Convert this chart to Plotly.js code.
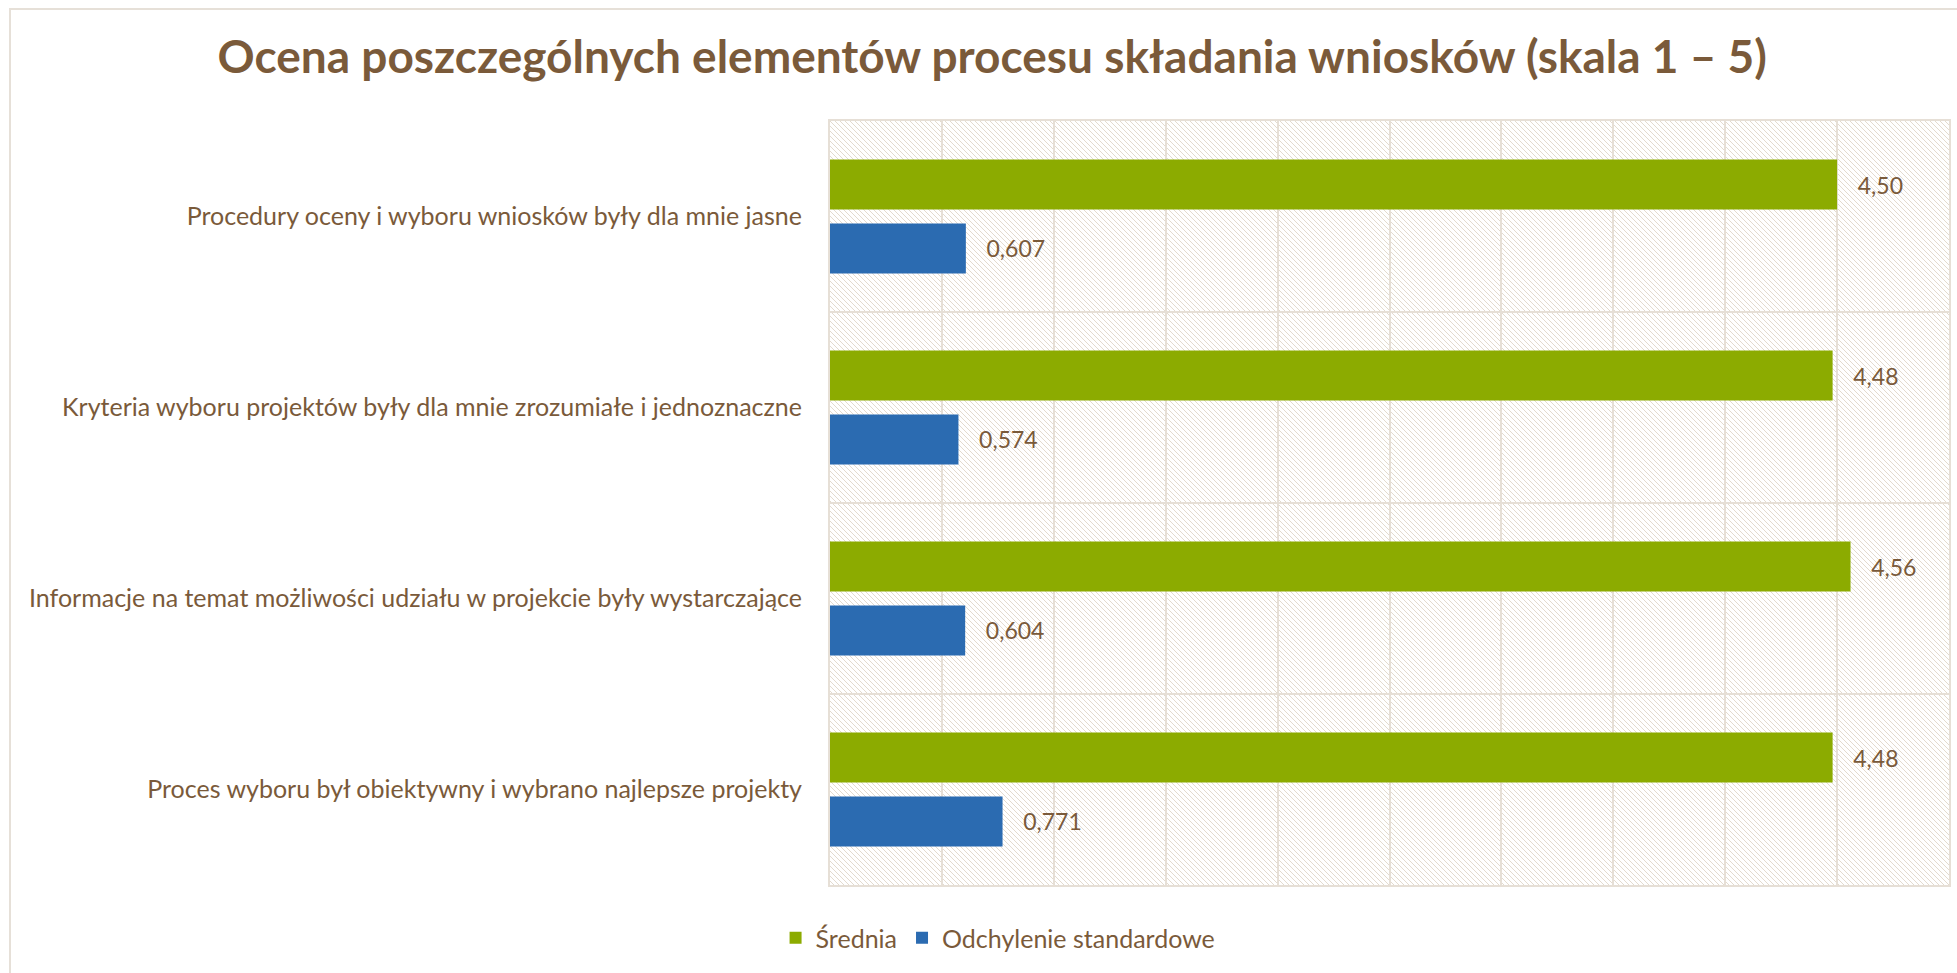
<!DOCTYPE html>
<html>
<head>
<meta charset="utf-8">
<script src="https://cdn.plot.ly/plotly-3.0.1.min.js"></script>
<style>
  html, body { margin: 0; padding: 0; background: #ffffff; }
  #wrap { position: relative; width: 1957px; height: 973px; overflow: hidden; }
  #frame { position: absolute; left: 9px; top: 8px; width: 2100px; height: 1100px;
           border-left: 2px solid #e6e0d8; border-top: 2px solid #e6e0d8; box-sizing: border-box; }
  #hatch { position: absolute; background-repeat: repeat; }
  #chart { position: absolute; left: 0; top: 0; width: 1957px; height: 973px; }
</style>
</head>
<body>
<div id="wrap">
  <div id="frame"></div>
  <div id="hatch"></div>
  <div id="chart"></div>
</div>
<script>
// ---- data ----
const categories = [
  "Procedury oceny i wyboru wniosków były dla mnie jasne",
  "Kryteria wyboru projektów były dla mnie zrozumiałe i jednoznaczne",
  "Informacje na temat możliwości udziału w projekcie były wystarczające",
  "Proces wyboru był obiektywny i wybrano najlepsze projekty"
];
const sredniaValues = [4.50, 4.48, 4.56, 4.48];
const odchylenieValues = [0.607, 0.574, 0.604, 0.771];
const seriesNames = ["Średnia", "Odchylenie standardowe"];
const xTickValues = [0, 0.5, 1, 1.5, 2, 2.5, 3, 3.5, 4, 4.5, 5];
const chartTitle = "Ocena poszczególnych elementów procesu składania wniosków (skala 1 – 5)";

// ---- style ----
const W = 1957, H = 973;
const M = { l: 830, r: 8, t: 121, b: 88 };
const brown = "#7a5a3a";
const gridColor = "#e6dfd6";
const fontFam = "Lato, 'Open Sans', sans-serif";

// background hatch tile (diagonal dotted lines, decoration only)
(function () {
  const P = 5;
  const c = document.createElement("canvas");
  c.width = P * 4; c.height = P * 4;
  const ctx = c.getContext("2d");
  ctx.fillStyle = "#e3dace";
  for (let y = 0; y < c.height; y++) {
    for (let x = 0; x < c.width; x++) {
      if ((((x - y) % P) + P) % P === 0) ctx.fillRect(x, y, 1, 1);
    }
  }
  const hatch = document.getElementById("hatch");
  hatch.style.backgroundImage = "url(" + c.toDataURL() + ")";
  hatch.style.left = M.l + "px";
  hatch.style.top = M.t + "px";
  hatch.style.width = (W - M.l - M.r) + "px";
  hatch.style.height = (H - M.t - M.b) + "px";
})();

const traces = [
  {
    type: "bar", orientation: "h", name: seriesNames[0],
    y: categories, x: sredniaValues,
    marker: { color: "#8cab00", line: { width: 0 } },
    texttemplate: "\u00a0\u00a0\u00a0%{x:.2f}", textposition: "outside",
    textfont: { family: fontFam, size: 23, color: brown },
    cliponaxis: false, hoverinfo: "x"
  },
  {
    type: "bar", orientation: "h", name: seriesNames[1],
    y: categories, x: odchylenieValues,
    marker: { color: "#2b6bb1", line: { width: 0 } },
    texttemplate: "\u00a0\u00a0\u00a0%{x:.3f}", textposition: "outside",
    textfont: { family: fontFam, size: 23, color: brown },
    cliponaxis: false, hoverinfo: "x"
  }
];

const layout = {
  width: W, height: H,
  margin: M,
  paper_bgcolor: "rgba(0,0,0,0)",
  plot_bgcolor: "rgba(0,0,0,0)",
  separators: ", ",
  barmode: "group",
  bargap: 0.33,
  bargroupgap: 0.22,
  title: {
    text: "<b>" + chartTitle + "</b>",
    font: { family: fontFam, size: 46, color: brown },
    x: 0.507, xanchor: "center", xref: "container",
    y: 1 - 57 / H, yanchor: "middle", yref: "container"
  },
  xaxis: {
    range: [0, 5], tickvals: xTickValues, showticklabels: false,
    showgrid: true, gridcolor: gridColor, gridwidth: 2,
    zeroline: false, showline: true, linecolor: gridColor, linewidth: 2, mirror: true,
    ticks: "", fixedrange: true
  },
  yaxis: {
    type: "category", autorange: "reversed",
    tickson: "boundaries", ticks: "", ticklabelstandoff: 21,
    showgrid: true, gridcolor: gridColor, gridwidth: 2,
    showline: true, linecolor: gridColor, linewidth: 2, mirror: true,
    tickfont: { family: fontFam, size: 25, color: brown },
    fixedrange: true
  },
  showlegend: true,
  legend: {
    orientation: "h", xref: "container", yref: "container",
    x: 0.51, xanchor: "center", y: 1 - 938 / H, yanchor: "middle",
    font: { family: fontFam, size: 25, color: brown },
    traceorder: "normal"
  },
  font: { family: fontFam, color: brown }
};

Plotly.newPlot("chart", traces, layout, { displayModeBar: false, staticPlot: true });
</script>
</body>
</html>
